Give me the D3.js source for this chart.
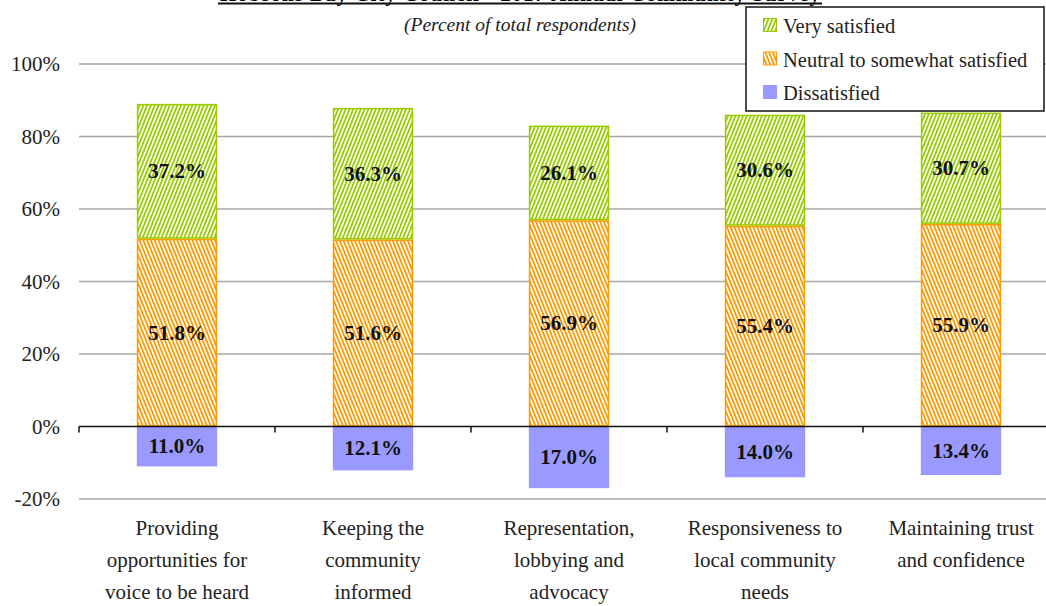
<!DOCTYPE html>
<html>
<head>
<meta charset="utf-8">
<script src="https://cdn.jsdelivr.net/npm/d3@7"></script>
<style>
  body { margin: 0; background: #fff; }
  svg { display: block; }
  svg text { font-family: "Liberation Serif", "DejaVu Serif", serif; }
</style>
</head>
<body>
<div id="chart"></div>
<script>
// Chart data
const categories = [
  ["Providing", "opportunities for", "voice to be heard"],
  ["Keeping the", "community", "informed"],
  ["Representation,", "lobbying and", "advocacy"],
  ["Responsiveness to", "local community", "needs"],
  ["Maintaining trust", "and confidence"]
];
const dissatisfied = [11.0, 12.1, 17.0, 14.0, 13.4];
const neutral = [51.8, 51.6, 56.9, 55.4, 55.9];
const verySatisfied = [37.2, 36.3, 26.1, 30.6, 30.7];
const yTicks = [-20, 0, 20, 40, 60, 80, 100];
const legendLabels = ["Very satisfied", "Neutral to somewhat satisfied", "Dissatisfied"];

const width = 1046, height = 606;
const margin = { left: 79, top: 64, bottom: 107 };

const svg = d3.select("#chart").append("svg")
  .attr("width", width)
  .attr("height", height)
  .attr("font-family", "Liberation Serif, DejaVu Serif, serif");

// hatch patterns
const defs = svg.append("defs");
function hatch(id, color, angle) {
  const p = defs.append("pattern")
    .attr("id", id)
    .attr("patternUnits", "userSpaceOnUse")
    .attr("width", 3.5)
    .attr("height", 4)
    .attr("patternTransform", `rotate(${angle})`);
  p.append("rect").attr("width", 3.5).attr("height", 4).attr("fill", "#fff");
  p.append("rect").attr("width", 1.8).attr("height", 4).attr("fill", color);
}
hatch("hatchGreen", "#99cc00", 22);
hatch("hatchOrange", "#ff9900", -22);

const green = "#99cc00", orange = "#ff9900", purple = "#9999ff";

// scales: last category runs past the right edge, as in the reference
const x = d3.scaleBand()
  .domain(d3.range(categories.length))
  .range([margin.left, margin.left + 196 * categories.length])
  .paddingInner(0.59)
  .paddingOuter(0.295);

const y = d3.scaleLinear()
  .domain([-20, 100])
  .range([height - margin.bottom, margin.top]);

// gridlines
svg.append("g").selectAll("line")
  .data(yTicks.filter(d => d !== 0))
  .join("line")
  .attr("x1", margin.left).attr("x2", width)
  .attr("y1", d => y(d)).attr("y2", d => y(d))
  .attr("stroke", "#a6a6a6")
  .attr("stroke-width", 1.5);

// y labels
svg.append("g").selectAll("text")
  .data(yTicks)
  .join("text")
  .attr("x", 60)
  .attr("y", d => y(d) + 7)
  .attr("text-anchor", "end")
  .attr("font-size", 21)
  .attr("fill", "#222")
  .text(d => d + "%");

// bars
const bars = svg.append("g");
categories.forEach((c, i) => {
  const bx = x(i), bw = x.bandwidth();
  bars.append("rect")
    .attr("x", bx).attr("width", bw)
    .attr("y", y(0)).attr("height", y(-dissatisfied[i]) - y(0))
    .attr("fill", purple);
  bars.append("rect")
    .attr("x", bx + 0.75).attr("width", bw - 1.5)
    .attr("y", y(neutral[i]) + 0.75).attr("height", y(0) - y(neutral[i]) - 1.5)
    .attr("fill", "url(#hatchOrange)")
    .attr("stroke", orange).attr("stroke-width", 1.5);
  const top = neutral[i] + verySatisfied[i];
  bars.append("rect")
    .attr("x", bx + 0.75).attr("width", bw - 1.5)
    .attr("y", y(top) + 0.75).attr("height", y(neutral[i]) - y(top) - 1.5)
    .attr("fill", "url(#hatchGreen)")
    .attr("stroke", green).attr("stroke-width", 1.5);

  const cx = bx + bw / 2;
  const labels = [
    [verySatisfied[i], (neutral[i] + top) / 2],
    [neutral[i], neutral[i] / 2],
    [dissatisfied[i], -dissatisfied[i] / 2]
  ];
  labels.forEach(([v, pos]) => {
    bars.append("text")
      .attr("x", cx).attr("y", y(pos) + 7)
      .attr("text-anchor", "middle")
      .attr("font-size", 21)
      .attr("font-weight", "bold")
      .attr("fill", "#111")
      .text(v.toFixed(1) + "%");
  });
});

// zero line with category ticks
svg.append("line")
  .attr("x1", margin.left).attr("x2", width)
  .attr("y1", y(0)).attr("y2", y(0))
  .attr("stroke", "#111").attr("stroke-width", 1.5);
svg.append("g").selectAll("line")
  .data(d3.range(categories.length + 1))
  .join("line")
  .attr("x1", d => margin.left + d * x.step())
  .attr("x2", d => margin.left + d * x.step())
  .attr("y1", y(0)).attr("y2", y(0) + 6)
  .attr("stroke", "#111").attr("stroke-width", 1.5);

// x labels
categories.forEach((lines, i) => {
  const t = svg.append("text")
    .attr("text-anchor", "middle")
    .attr("font-size", 21)
    .attr("fill", "#222");
  lines.forEach((l, j) => {
    t.append("tspan")
      .attr("x", x(i) + x.bandwidth() / 2)
      .attr("y", 535 + j * 32)
      .text(l);
  });
});

// title (partly cut off at the top)
svg.append("text")
  .attr("x", 520).attr("y", 1)
  .attr("text-anchor", "middle")
  .attr("font-size", 21)
  .attr("font-weight", "bold")
  .attr("textLength", 600)
  .text("Hobsons Bay City Council - 2017 Annual Community Survey");
svg.append("line")
  .attr("x1", 218).attr("x2", 822)
  .attr("y1", 3.5).attr("y2", 3.5)
  .attr("stroke", "#111").attr("stroke-width", 2);
svg.append("text")
  .attr("x", 520).attr("y", 31)
  .attr("text-anchor", "middle")
  .attr("font-size", 19.5)
  .attr("font-style", "italic")
  .attr("fill", "#222")
  .text("(Percent of total respondents)");

// legend
const legend = svg.append("g").attr("transform", "translate(746,7)");
legend.append("rect")
  .attr("width", 298).attr("height", 104)
  .attr("fill", "#fff").attr("stroke", "#111").attr("stroke-width", 1.5);
const fills = ["url(#hatchGreen)", "url(#hatchOrange)", purple];
const strokes = [green, orange, purple];
legendLabels.forEach((l, i) => {
  const base = 26 + i * 33.5;
  legend.append("rect")
    .attr("x", 17.5).attr("y", base - 14.5).attr("width", 13).attr("height", 13)
    .attr("fill", fills[i]).attr("stroke", strokes[i]).attr("stroke-width", 1);
  legend.append("text")
    .attr("x", 37).attr("y", base)
    .attr("font-size", 20.5)
    .attr("fill", "#222")
    .text(l);
});
</script>
</body>
</html>
